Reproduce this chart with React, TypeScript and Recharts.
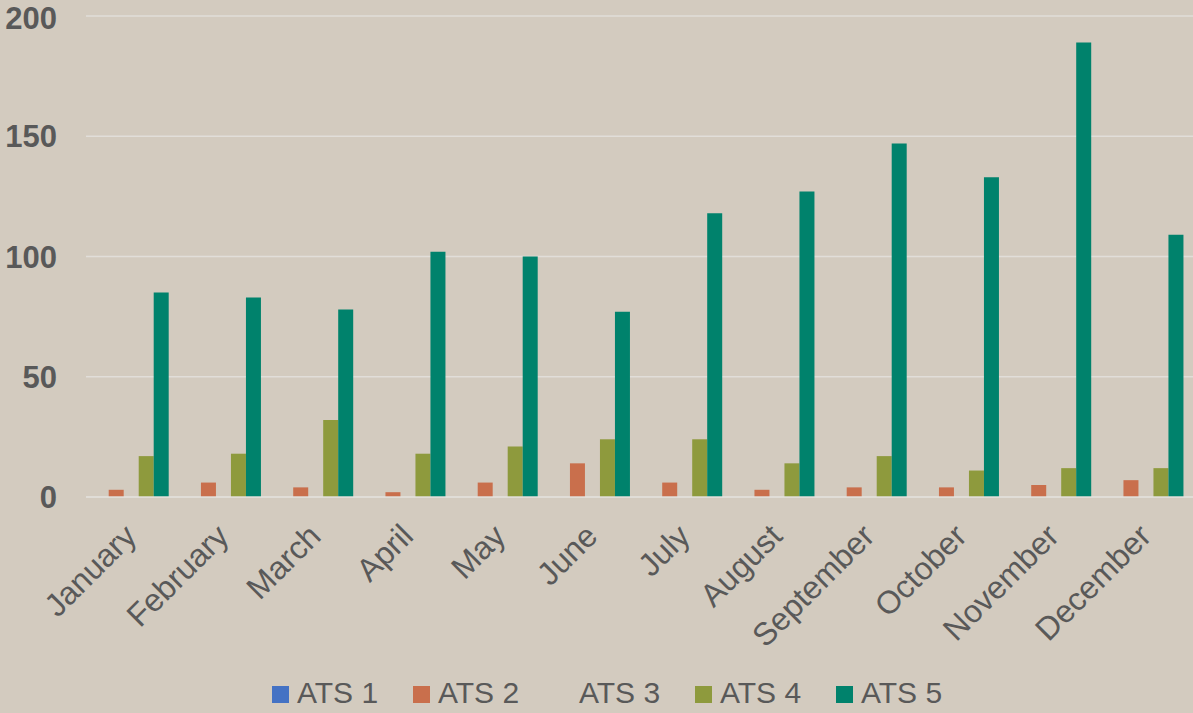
import React from "react";
import { BarChart, Bar, XAxis, YAxis, CartesianGrid, Legend } from "recharts";

const months = ["January", "February", "March", "April", "May", "June", "July", "August", "September", "October", "November", "December"];
const ats1 = [0, 0, 0, 0, 0, 0, 0, 0, 0, 0, 0, 0];
const ats2 = [3, 6, 4, 2, 6, 14, 6, 3, 4, 4, 5, 7];
const ats3 = [0, 0, 0, 0, 0, 0, 0, 0, 0, 0, 0, 0];
const ats4 = [17, 18, 32, 18, 21, 24, 24, 14, 17, 11, 12, 12];
const ats5 = [85, 83, 78, 102, 100, 77, 118, 127, 147, 133, 189, 109];
const yTicks = [0, 50, 100, 150, 200];

const seriesNames = ["ATS 1", "ATS 2", "ATS 3", "ATS 4", "ATS 5"];

const BG = "#D3CBBF";
const GRID = "#E1DED9";
const TEXT = "#595959";
const colors = ["#4472C4", "#C96F4C", BG, "#8E9A3D", "#00826C"];

const data = months.map((m, i) => ({
  month: m,
  a1: ats1[i],
  a2: ats2[i],
  a3: ats3[i],
  a4: ats4[i],
  a5: ats5[i],
}));

const FONT = "'Liberation Sans', Arial, sans-serif";

const LegendContent = () => (
  <div style={{ height: 40, display: "flex", alignItems: "center", paddingLeft: 272, boxSizing: "border-box" }}>
    {seriesNames.map((n, i) => (
      <div key={n} style={{ width: 141, display: "flex", alignItems: "center", flex: "none" }}>
        <div style={{ width: 17, height: 17, background: colors[i], marginRight: 8, marginTop: 2 }} />
        <span style={{ fontFamily: FONT, fontSize: 30, color: TEXT, lineHeight: "30px" }}>{n}</span>
      </div>
    ))}
  </div>
);

export default function App() {
  return (
    <div style={{ position: "absolute", left: 0, top: 0, width: 1193, height: 713, overflow: "hidden", background: BG }}>
      <BarChart
        width={1193}
        height={713}
        data={data}
        margin={{ top: 16, right: 0, bottom: 0, left: 0 }}
        barCategoryGap="8.35%"
        barGap={0}
        style={{ background: BG }}
      >
        <CartesianGrid vertical={false} stroke={GRID} strokeWidth={1.5} />
        <XAxis
          dataKey="month"
          height={176}
          interval={0}
          axisLine={{ stroke: GRID, strokeWidth: 1.5 }}
          tickLine={false}
          tickSize={0}
          tickMargin={25}
          angle={-45}
          textAnchor="end"
          tick={{ fill: TEXT, fontSize: 32, fontFamily: FONT, dx: -10 }}
        />
        <YAxis
          width={86}
          domain={[0, 200]}
          ticks={yTicks}
          axisLine={false}
          tickLine={false}
          tickSize={0}
          tickMargin={29}
          tick={{ fill: TEXT, fontSize: 31, fontWeight: "bold", fontFamily: FONT }}
        />
        <Legend verticalAlign="bottom" content={<LegendContent />} />
        <Bar dataKey="a1" name="ATS 1" fill={colors[0]} isAnimationActive={false} />
        <Bar dataKey="a2" name="ATS 2" fill={colors[1]} isAnimationActive={false} />
        <Bar dataKey="a3" name="ATS 3" fill={colors[2]} isAnimationActive={false} />
        <Bar dataKey="a4" name="ATS 4" fill={colors[3]} isAnimationActive={false} />
        <Bar dataKey="a5" name="ATS 5" fill={colors[4]} isAnimationActive={false} />
      </BarChart>
    </div>
  );
}
